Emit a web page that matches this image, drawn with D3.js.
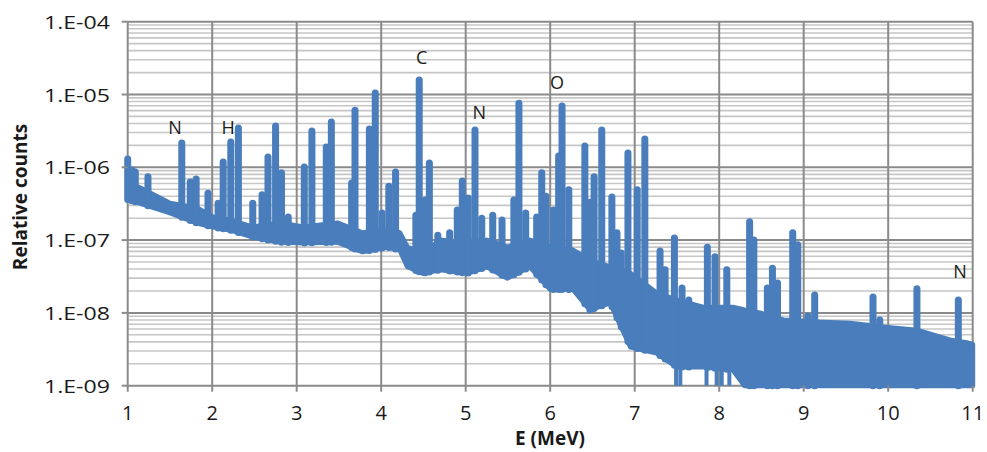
<!DOCTYPE html>
<html>
<head>
<meta charset="utf-8">
<script src="https://cdnjs.cloudflare.com/ajax/libs/d3/7.8.5/d3.min.js"></script>
<style>
  body { margin: 0; background: #fff; }
  svg text { font-family: "Open Sans", "Noto Sans", sans-serif; fill: #1a1a1a; }
</style>
</head>
<body>
<div id="chart"></div>
<script>
// continuum band of the spectrum (energy in MeV, lower / upper envelope)
const contE  = [1.00, 1.15, 1.50, 1.82, 2.01, 2.21, 2.48, 2.80, 3.08, 3.48, 3.78, 4.07, 4.22, 4.31, 4.49, 4.70, 5.02, 5.25, 5.49, 5.76, 6.00, 6.27, 6.47, 6.71, 6.95, 7.26, 7.50, 7.81, 8.16, 8.30, 8.48, 8.76, 9.16, 9.55, 9.94, 10.34, 10.53, 10.73, 10.93, 11.00];
const contLo = [3.6e-7, 3.2e-7, 2.36e-7, 1.72e-7, 1.51e-7, 1.38e-7, 1.1e-7, 9.4e-8, 9.1e-8, 9.4e-8, 6.9e-8, 8.0e-8, 7.3e-8, 4.3e-8, 3.5e-8, 3.9e-8, 3.5e-8, 4.3e-8, 3.0e-8, 4.3e-8, 2.1e-8, 2.1e-8, 1.1e-8, 1.37e-8, 3.4e-9, 2.8e-9, 1.8e-9, 1.8e-9, 1.65e-9, 1e-9, 1e-9, 1e-9, 1e-9, 1e-9, 1e-9, 1e-9, 1e-9, 1e-9, 1e-9, 1e-9];
const contHi = [6.1e-7, 5.2e-7, 3.2e-7, 2.76e-7, 2.08e-7, 1.89e-7, 1.51e-7, 1.72e-7, 1.51e-7, 1.72e-7, 1.26e-7, 1.38e-7, 1.26e-7, 8.0e-8, 6.6e-8, 1.0e-7, 9.1e-8, 1.0e-7, 8.0e-8, 1.0e-7, 8.0e-8, 7.3e-8, 5.3e-8, 4.3e-8, 3.5e-8, 1.88e-8, 1.5e-8, 1.2e-8, 1.2e-8, 1.1e-8, 1.0e-8, 8.0e-9, 7.5e-9, 7.2e-9, 6.4e-9, 5.8e-9, 5.0e-9, 4.25e-9, 3.9e-9, 3.7e-9];

// gamma lines (energy in MeV, peak height)
const peakE = [1.00, 1.05, 1.09, 1.24, 1.64, 1.74, 1.81, 1.95, 2.07, 2.13, 2.22, 2.31, 2.48, 2.59, 2.66, 2.75, 2.82, 2.90,
  3.09, 3.18, 3.35, 3.41, 3.65, 3.69, 3.86, 3.93, 4.01, 4.09, 4.17, 4.41, 4.45, 4.52, 4.57, 4.67, 4.81, 4.90, 4.96,
  5.03, 5.11, 5.19, 5.32, 5.43, 5.57, 5.63, 5.71, 5.84, 5.90, 5.95, 6.04, 6.10, 6.14, 6.22, 6.41, 6.47, 6.52, 6.61,
  6.73, 6.79, 6.84, 6.92, 7.03, 7.12, 7.30, 7.36, 7.47, 7.56, 7.64, 7.86, 7.95, 8.09, 8.36, 8.41, 8.57, 8.63, 8.69,
  8.87, 8.93, 9.05, 9.13, 9.82, 9.90, 10.34, 10.83];
const peakV = [1.3e-6, 9.2e-7, 8.6e-7, 7.4e-7, 2.16e-6, 6.3e-7, 6.9e-7, 4.4e-7, 3.2e-7, 1.18e-6, 2.23e-6, 3.47e-6, 3.2e-7, 4.2e-7, 1.39e-6, 3.7e-6, 8.4e-7, 2.08e-7,
  1.01e-6, 3.15e-6, 1.9e-6, 4.2e-6, 6.1e-7, 6.1e-6, 3.36e-6, 1.05e-5, 2.36e-7, 5.5e-7, 8.6e-7, 2.2e-7, 1.58e-5, 3.56e-7, 1.15e-6, 1.17e-7, 1.26e-7, 2.6e-7, 6.5e-7,
  3.8e-7, 3.25e-6, 2.0e-7, 2.2e-7, 1.89e-7, 3.56e-7, 7.6e-6, 2.36e-7, 2.08e-7, 8.4e-7, 4.0e-7, 2.6e-7, 1.43e-6, 6.95e-6, 4.9e-7, 1.96e-6, 3.3e-7, 7.4e-7, 3.25e-6,
  3.9e-7, 1.26e-7, 6.65e-8, 1.57e-6, 4.9e-7, 2.45e-6, 7.1e-8, 3.9e-8, 1.07e-7, 2.2e-8, 1.5e-8, 8.0e-8, 5.9e-8, 3.9e-8, 1.78e-7, 1.0e-7, 2.2e-8, 4.1e-8, 2.57e-8,
  1.26e-7, 8.6e-8, 9.0e-9, 1.76e-8, 1.65e-8, 8.0e-9, 2.14e-8, 1.5e-8];

// channels that fall to the bottom of the axis
const dipE = [7.49, 7.54, 7.85, 7.97, 8.03, 8.12, 8.29];

// element labels
const labelText = ["N", "H", "C", "N", "O", "N"];
const labelE = [1.56, 2.19, 4.48, 5.16, 6.08, 10.85];
const labelV = [3.5e-6, 3.5e-6, 3.2e-5, 5.6e-6, 1.45e-5, 3.6e-8];

const xTicks = [1, 2, 3, 4, 5, 6, 7, 8, 9, 10, 11];
const yTicks = [1e-9, 1e-8, 1e-7, 1e-6, 1e-5, 1e-4];
const yTickLabels = ["1.E-09", "1.E-08", "1.E-07", "1.E-06", "1.E-05", "1.E-04"];

const width = 987, height = 452;
const margin = {top: 21.7, right: 14.3, bottom: 66.3, left: 127.7};
const blue = "#4a7dbb";

const svg = d3.select("#chart").append("svg")
  .attr("width", width).attr("height", height);

const x = d3.scaleLinear().domain([1, 11]).range([margin.left, width - margin.right]);
const y = d3.scaleLog().domain([1e-9, 1e-4]).range([height - margin.bottom, margin.top]);

// minor horizontal grid
const minor = [];
for (let e = -9; e < -4; e++) {
  for (let m = 2; m <= 9; m++) minor.push(m * Math.pow(10, e));
}
svg.append("g").selectAll("line").data(minor).join("line")
  .attr("x1", x(1)).attr("x2", x(11))
  .attr("y1", d => y(d)).attr("y2", d => y(d))
  .attr("stroke", "#c6c6c6").attr("stroke-width", 1.6);

// major grid
svg.append("g").selectAll("line").data(yTicks).join("line")
  .attr("x1", x(1)).attr("x2", x(11))
  .attr("y1", d => y(d)).attr("y2", d => y(d))
  .attr("stroke", "#8a8a8a").attr("stroke-width", 2);
svg.append("g").selectAll("line").data(xTicks).join("line")
  .attr("x1", d => x(d)).attr("x2", d => x(d))
  .attr("y1", y(1e-4)).attr("y2", y(1e-9))
  .attr("stroke", "#8a8a8a").attr("stroke-width", 2);

// spectrum
const plot = svg.append("g");
const cont = contE.map((e, i) => ({e: e, lo: contLo[i], hi: contHi[i]}));
const loY = d3.scaleLinear().domain(contE).range(contLo.map(v => y(v)));

plot.append("path")
  .datum(cont)
  .attr("d", d3.area().x(d => x(d.e)).y0(d => y(d.lo)).y1(d => y(d.hi)))
  .attr("fill", blue).attr("stroke", blue)
  .attr("stroke-width", 5).attr("stroke-linejoin", "round");

plot.selectAll(".dip").data(dipE).join("line")
  .attr("class", "dip")
  .attr("x1", d => x(d)).attr("x2", d => x(d))
  .attr("y1", d => loY(d)).attr("y2", y(1e-9))
  .attr("stroke", blue).attr("stroke-width", 4);

plot.selectAll(".peak").data(peakE).join("line")
  .attr("class", "peak")
  .attr("x1", d => x(d)).attr("x2", d => x(d))
  .attr("y1", d => loY(d))
  .attr("y2", (d, i) => y(peakV[i]))
  .attr("stroke", blue).attr("stroke-width", 7)
  .attr("stroke-linecap", "round");

// axes ticks
svg.append("g").selectAll("line").data(yTicks).join("line")
  .attr("x1", x(1) - 6).attr("x2", x(1))
  .attr("y1", d => y(d)).attr("y2", d => y(d))
  .attr("stroke", "#8a8a8a").attr("stroke-width", 2);
svg.append("g").selectAll("line").data(xTicks).join("line")
  .attr("x1", d => x(d)).attr("x2", d => x(d))
  .attr("y1", y(1e-9)).attr("y2", y(1e-9) + 6)
  .attr("stroke", "#8a8a8a").attr("stroke-width", 2);

// tick labels
svg.append("g").selectAll("text").data(yTicks).join("text")
  .attr("x", 110).attr("y", d => y(d) + 7)
  .attr("text-anchor", "end")
  .attr("font-size", 19)
  .attr("textLength", 66).attr("lengthAdjust", "spacingAndGlyphs")
  .text((d, i) => yTickLabels[i]);

svg.append("g").selectAll("text").data(xTicks).join("text")
  .attr("x", d => x(d)).attr("y", y(1e-9) + 34)
  .attr("text-anchor", "middle")
  .attr("font-size", 20)
  .text(d => d);

// axis titles
svg.append("text")
  .attr("x", 550).attr("y", 445)
  .attr("text-anchor", "middle")
  .attr("font-size", 19).attr("font-weight", "bold")
  .text("E (MeV)");

svg.append("text")
  .attr("transform", "translate(27,197) rotate(-90)")
  .attr("text-anchor", "middle")
  .attr("font-size", 19).attr("font-weight", "bold")
  .text("Relative counts");

// element labels
svg.append("g").selectAll("text").data(labelText).join("text")
  .attr("x", (d, i) => x(labelE[i]))
  .attr("y", (d, i) => y(labelV[i]) + 6)
  .attr("text-anchor", "middle")
  .attr("font-size", 18)
  .text(d => d);
</script>
</body>
</html>
